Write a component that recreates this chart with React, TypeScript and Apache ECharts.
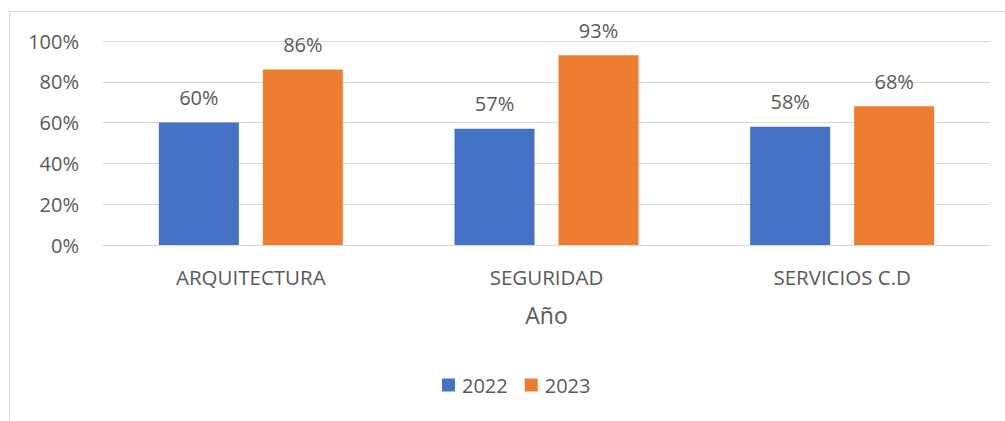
import React, { useEffect, useRef } from "react";
import * as echarts from "echarts";

const categories = ["ARQUITECTURA", "SEGURIDAD", "SERVICIOS C.D"];
const series2022 = [0.6, 0.57, 0.58];
const series2023 = [0.86, 0.93, 0.68];
const seriesNames = ["2022", "2023"];
const colors = ["#4472C4", "#ED7D31"];
const FONT = "'Open Sans', 'Noto Sans', sans-serif";
const TEXT = "#595959";

export default function App() {
  const ref = useRef<HTMLDivElement>(null);
  useEffect(() => {
    document.body.style.margin = "0";
    const chart = echarts.init(ref.current!, null, { renderer: "svg" });
    const pct = (v: number) => Math.round(v * 100) + "%";
    chart.setOption({
      animation: false,
      backgroundColor: "#ffffff",
      textStyle: { fontFamily: FONT, color: TEXT },
      graphic: [
        {
          type: "rect",
          shape: { x: 9.5, y: 11.5, width: 1100, height: 500 },
          style: { fill: "none", stroke: "#d9d9d9", lineWidth: 1 },
          silent: true,
        },
      ],
      grid: { left: 103, right: 15, top: 41, bottom: 176 },
      legend: {
        data: seriesNames,
        left: 437,
        top: 370,
        itemWidth: 13,
        itemHeight: 13,
        itemGap: 17,
        icon: "rect",
        textStyle: { fontSize: 20, color: TEXT, fontFamily: FONT, padding: [0, 0, 0, 2] },
      },
      xAxis: {
        type: "category",
        data: categories,
        name: "Año",
        nameLocation: "middle",
        nameGap: 58,
        nameTextStyle: { fontSize: 23, color: TEXT, fontFamily: FONT },
        axisTick: { show: false },
        axisLine: { lineStyle: { color: "#d9d9d9", width: 1 } },
        axisLabel: { fontSize: 20.5, color: TEXT, margin: 21, fontFamily: FONT },
      },
      yAxis: {
        type: "value",
        min: 0,
        max: 1,
        interval: 0.2,
        axisLine: { show: false },
        axisTick: { show: false },
        splitLine: { lineStyle: { color: "#d9d9d9", width: 1 } },
        axisLabel: {
          fontSize: 20,
          color: TEXT,
          margin: 24,
          fontFamily: FONT,
          formatter: (v: number) => pct(v),
        },
      },
      series: [
        {
          name: seriesNames[0],
          type: "bar",
          data: series2022,
          barWidth: 80,
          barGap: "30%",
          itemStyle: { color: colors[0] },
          label: {
            show: true,
            position: "top",
            distance: 15,
            fontSize: 20,
            color: TEXT,
            fontFamily: FONT,
            formatter: (p: any) => pct(p.value),
          },
        },
        {
          name: seriesNames[1],
          type: "bar",
          data: series2023,
          barWidth: 80,
          barGap: "30%",
          itemStyle: { color: colors[1] },
          label: {
            show: true,
            position: "top",
            distance: 15,
            fontSize: 20,
            color: TEXT,
            fontFamily: FONT,
            formatter: (p: any) => pct(p.value),
          },
        },
      ],
    });
    return () => chart.dispose();
  }, []);
  return (
    <div
      ref={ref}
      style={{ position: "fixed", left: 0, top: 0, width: 1005, height: 421 }}
    />
  );
}
